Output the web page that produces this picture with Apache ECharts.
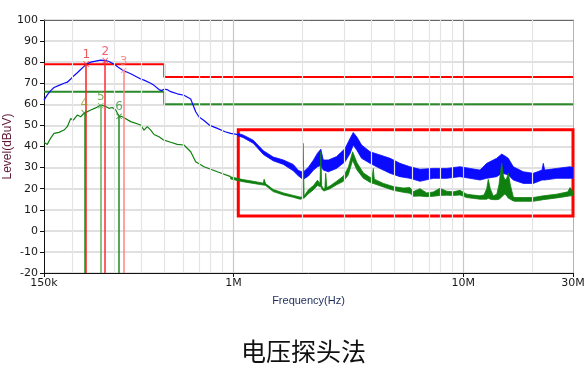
<!DOCTYPE html>
<html><head><meta charset="utf-8">
<script src="https://cdn.jsdelivr.net/npm/echarts@6/dist/echarts.min.js"></script>
<style>html,body{margin:0;padding:0;background:#fff}#c{width:588px;height:374px}</style>
</head><body><div id="c"></div>
<script>
// ---- axis ticks ----
const tickFreqHz = [150000, 1000000, 10000000, 30000000];
const tickText = ['150k', '1M', '10M', '30M'];
const gridFreqHz = [200e3, 300e3, 400e3, 500e3, 600e3, 700e3, 800e3, 900e3, 1e6, 2e6, 3e6, 4e6, 5e6, 6e6, 7e6, 8e6, 9e6, 1e7, 2e7];
const majorGridHz = [1e6, 1e7];

// ---- limit lines ----
const limitFreqHz = [150e3, 500e3, 500e3, 30e6];
const qpLimit = [79, 79, 73, 73];
const avLimit = [66, 66, 60, 60];

// ---- peak (blue) trace, low band, kHz ----
const peakLowKHz = [150,155,160.4,165.8,174.3,183.3,189.4,196,201.2,209.4,216.6,223.9,229,239.5,251.8,264.7,278.3,287.7,297.3,307.6,318,328.7,357.5,395.1,408.4,436.8,451.4,474.6,487,499,514,533.6,570,609.4,651.9,685.4,708.6,744.9,790,851.1,920,973,1047];
const peakLowLevel = [62,64.5,66.5,68,69,70,70.5,72,73.3,75,76.5,78,79,80,80.5,81,80.8,80.3,79.5,78.5,77.3,76.3,74.5,72,71.5,70,69,67,66.5,67.2,67,66,65,64.3,62.5,56.5,54,52.3,50,48.6,47,46.2,45.6];
// ---- peak (blue) noisy band, MHz: upper and lower edge ----
const peakBandMHz = [1.047,1.10,1.22,1.35,1.49,1.65,1.82,1.92,2.01,2.12,2.23,2.32,2.40,2.46,2.59,2.81,3.06,3.22,3.32,3.44,3.61,3.93,4.34,4.80,5.30,5.86,6.48,7.40,8.47,9.67,10.69,11.82,12.64,13.97,14.69,15.18,15.69,16.50,18.24,20.16,22.0,22.28,22.6,25.48,29.11,30];
const peakBandHi = [46.2,45.5,43,38,35,33.6,31.5,28.6,27.8,30.2,33.6,36.8,38.7,33.6,33.6,35.2,39.1,43.9,46.6,44.6,40.7,37.5,36,34.4,32,30.4,29.2,29.6,29.6,30.4,29.6,28.8,32,34.4,36.4,35.5,34.4,30.4,28,27.3,28.8,32,28.8,29.6,30.4,30];
const peakBandLo = [45,44.3,41.5,36.2,33.2,31.5,28.5,26,24.4,26,28.8,30.4,31,28.8,28,29.6,32.8,36.8,40.7,38.3,34.4,32,29.6,27.3,25.7,24.9,23.5,24.9,24.9,25.7,24.9,24.1,24.9,25.7,27.3,27,26.5,24.1,22.5,22.5,24.1,24.1,24.1,24.9,24.9,25];

// ---- average (green) trace, low band, kHz ----
const avgLowKHz = [150,155,160.4,165.8,174.3,183.3,189.4,196,201.2,209.4,216.6,223.9,239.5,251.8,264.7,278.3,287.7,297.3,307.6,318,328.7,357.5,395.1,408.4,422.1,436.8,451.4,474.6,499,533.6,570,609.4,651.9,685.4,744.9,851.1,973];
const avgLowLevel = [42,41,44,46.2,46.7,47.8,49.4,53.3,52.5,54.9,54.1,55.7,57.3,58.3,59.7,59,58.1,58.5,57.3,54.5,54.1,51.8,50.2,47.8,49.4,47.8,45.7,44.6,43,42,41,40.7,37.5,32.8,30.4,28,25.7];
// ---- average (green) noisy band, MHz: upper and lower edge ----
const avgBandMHz = [0.973,1.05,1.10,1.22,1.35,1.36,1.38,1.49,1.65,1.82,1.95,1.99,2.01,2.03,2.12,2.23,2.32,2.38,2.40,2.42,2.46,2.50,2.52,2.55,2.63,2.81,3.01,3.16,3.30,3.44,3.67,4.00,4.06,4.10,4.49,4.96,5.48,5.86,6.06,6.48,6.93,7.40,7.92,8.47,9.05,9.67,10.34,11.0,11.82,12.3,12.64,12.84,13.1,13.5,14.0,14.3,14.69,14.95,15.18,15.45,15.69,16.0,16.5,16.78,18.24,20.16,22.28,25.48,28.5,29.11,30];
const avgBandHi = [25.6,24.8,24.3,23.5,22.6,24.5,22.4,19.6,18,16.8,16,16,41.5,16.5,19.5,21.5,24,22.5,37.5,21.5,20,20.2,27.3,20.5,21.3,23.5,26,30,37.5,32.5,27.5,24.8,29.6,24.5,22.5,21,20.3,20.5,18.6,20,18,18.4,20.2,18.8,18.5,19.2,17.4,17,16.6,17,20,24.4,20,16.5,17.5,22,32,26,24.1,25,27.3,22,16,15.8,15.8,15.8,16.6,17.4,18.5,20.5,18.6];
const avgBandLo = [24.6,23.8,23.3,22.5,21.7,21.7,21.5,18.6,17,15.9,15,15.2,15.5,15.5,17.6,19.5,21.5,21,21,20,19,19,19.2,19.4,20,21.8,23.5,26.5,33.5,29,25,22.5,22.5,22.3,20.8,19.2,18.3,17.8,16.4,16.5,16.2,16.4,16.8,16.9,16.8,17,15.8,15.4,15,15,15,15.5,15,14.8,14.8,15,16,17,17.5,16.5,15.5,15,14.2,14,14,14,14.8,15.6,16.4,16.6,16.7];

// ---- markers ----
const markerName = ['1', '2', '3', '4', '5', '6'];
const markerKHz = [229, 277, 333, 224.5, 265, 318];
const markerLevel = [79.1, 80.8, 76, 56, 59.3, 54.3];
const markerColor = ['#ff1e1e', '#ff2a3a', '#ff8585', '#1e8c1e', '#5cb25c', '#1e8c1e'];
const markerTextColor = ['#e63232', '#f03a4c', '#f07474', '#98981c', '#4c982c', '#35963a'];

// ---- highlighted region ----
const boxFreqHz = [1.05e6, 30e6];
const boxLevel = [48, 7];

const L = Math.log10;
const xMin = L(tickFreqHz[0]), xMax = L(tickFreqHz[tickFreqHz.length - 1]);
const tickVals = tickFreqHz.map(L);
const FONT = 'DejaVu Sans';
const BLUE = '#0a0aff', GREEN = '#0f800f';

function pairs(fs, mult, vs) { return fs.map((f, i) => [L(f * mult), vs[i]]); }
function bandSeries(fs, mult, hi, lo, color) {
  const upper = pairs(fs, mult, hi), lower = pairs(fs, mult, lo).reverse();
  const outline = upper.concat(lower);
  return {
    type: 'custom', z: 3, silent: true, clip: true,
    data: outline,
    renderItem: (params, api) => {
      if (params.dataIndex !== 0) return null;
      return {type: 'polygon', shape: {points: outline.map(p => api.coord(p))},
        style: {fill: color, stroke: color, lineWidth: 0.8}};
    }
  };
}

const chart = echarts.init(document.getElementById('c'), null, {renderer: 'canvas'});
const xCommon = {type: 'value', min: xMin, max: xMax};
const option = {
  animation: false,
  backgroundColor: '#fff',
  title: {text: '电压探头法', left: 236, top: 334,
    textStyle: {fontFamily: 'Noto Sans CJK SC', fontSize: 25, fontWeight: 'normal', color: '#111'}},
  grid: {left: 44, right: 15, top: 20, bottom: 101, containLabel: false, outerBoundsMode: 'none'},
  xAxis: [
    Object.assign({}, xCommon, {
      position: 'bottom', name: 'Frequency(Hz)', nameLocation: 'middle', nameGap: 22, nameMoveOverlap: false,
      nameTextStyle: {color: '#1c2b5a', fontSize: 11, fontFamily: 'Liberation Sans'},
      axisLine: {show: true, onZero: false, lineStyle: {color: '#111', width: 1}},
      axisTick: {show: true, customValues: tickVals, length: 4, lineStyle: {color: '#111'}},
      axisLabel: {customValues: tickVals, margin: 5, color: '#1a1a1a', fontSize: 11, fontFamily: FONT,
        formatter: v => { const i = tickVals.findIndex(t => Math.abs(t - v) < 1e-6); return i >= 0 ? tickText[i] : ''; }},
      splitLine: {show: false}
    }),
    Object.assign({}, xCommon, {
      position: 'top', axisLine: {show: true, onZero: false, lineStyle: {color: '#666', width: 1}},
      axisTick: {show: false}, axisLabel: {show: false}, splitLine: {show: false}
    })
  ],
  yAxis: [
    {type: 'value', min: -20, max: 100, interval: 10, position: 'left',
      name: 'Level(dBuV)', nameLocation: 'middle', nameGap: 30, nameMoveOverlap: false,
      nameTextStyle: {color: '#5e1634', fontSize: 12, fontFamily: 'Liberation Sans'},
      axisLine: {show: true, onZero: false, lineStyle: {color: '#111', width: 1}},
      axisTick: {show: true, length: 4, lineStyle: {color: '#111'}},
      axisLabel: {margin: 6, color: '#1a1a1a', fontSize: 11, fontFamily: FONT},
      splitLine: {show: true, lineStyle: {color: '#d6d6d6', width: 1.5}}},
    {type: 'value', min: -20, max: 100, interval: 10, position: 'right',
      axisLine: {show: true, onZero: false, lineStyle: {color: '#b4b4b4', width: 1}},
      axisTick: {show: false}, axisLabel: {show: false}, splitLine: {show: false}}
  ],
  series: [
    { // vertical grid lines
      type: 'line', z: 0, silent: true, symbol: 'none',
      data: pairs(limitFreqHz, 1, qpLimit), lineStyle: {opacity: 0},
      markLine: {silent: true, symbol: ['none', 'none'], label: {show: false}, animation: false,
        data: gridFreqHz.map(f => ({xAxis: L(f), lineStyle: {type: 'solid',
          color: majorGridHz.includes(f) ? '#c8c8c8' : '#e4e4e4', width: 1.2}}))}
    },
    {type: 'line', z: 2, symbol: 'none', data: pairs(limitFreqHz, 1, qpLimit), lineStyle: {color: '#ff0000', width: 2}},
    {type: 'line', z: 2, symbol: 'none', data: pairs(limitFreqHz, 1, avLimit), lineStyle: {color: '#2a8a2a', width: 2}},
    {type: 'line', z: 3, symbol: 'none', data: pairs(peakLowKHz, 1e3, peakLowLevel), lineStyle: {color: BLUE, width: 1.2}},
    bandSeries(peakBandMHz, 1e6, peakBandHi, peakBandLo, BLUE),
    {type: 'line', z: 3, symbol: 'none', data: pairs(avgLowKHz, 1e3, avgLowLevel), lineStyle: {color: GREEN, width: 1.2}},
    bandSeries(avgBandMHz, 1e6, avgBandHi, avgBandLo, GREEN),
    { // highlighted region
      type: 'line', z: 6, symbol: 'none', data: [], silent: true,
      markArea: {silent: true, itemStyle: {color: 'rgba(0,0,0,0)', borderColor: '#ff0000', borderWidth: 3},
        data: [[{coord: [L(boxFreqHz[0]), boxLevel[0]]}, {coord: [L(boxFreqHz[1]), boxLevel[1]]}]]}
    },
    { // markers
      type: 'scatter', z: 5,
      symbol: 'path://M0,1L1,0L5,4L9,0L10,1L6,5L10,9L9,10L5,6L1,10L0,9L4,5Z', symbolSize: 6,
      data: markerName.map((n, i) => ({value: [L(markerKHz[i] * 1e3), markerLevel[i]], name: n,
        itemStyle: {color: markerColor[i]}, label: {color: markerTextColor[i]}})),
      label: {show: true, position: 'top', distance: 0, fontSize: 12, fontFamily: FONT, formatter: p => p.name},
      markLine: {silent: true, symbol: ['none', 'none'], label: {show: false}, animation: false,
        data: markerName.map((n, i) => [
          {coord: [L(markerKHz[i] * 1e3), markerLevel[i]], lineStyle: {color: markerColor[i], width: 1.5, type: 'solid'}},
          {coord: [L(markerKHz[i] * 1e3), -20]}])}
    }
  ]
};
chart.setOption(option);
</script></body></html>
